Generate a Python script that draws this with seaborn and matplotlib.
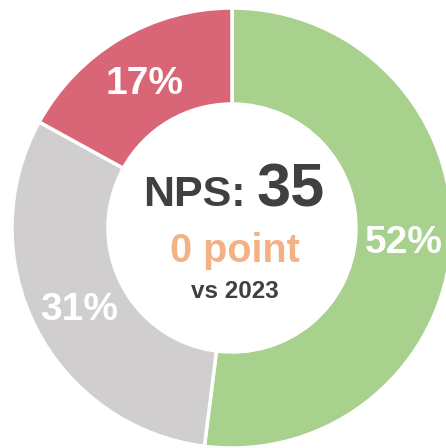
import matplotlib
matplotlib.use("Agg")
import matplotlib.pyplot as plt
import seaborn as sns

# NPS breakdown, clockwise from 12 o'clock
segments = ["Promoters", "Passives", "Detractors"]
shares = [52, 31, 17]
segment_colors = ["#a8d18d", "#d0cecf", "#d96677"]

nps_score = 35
nps_change = 0
compare_year = 2023

sns.set_theme(style="white")
plt.rcParams["font.family"] = ["Liberation Sans", "DejaVu Sans"]

fig = plt.figure(figsize=(4.46, 4.48), dpi=100)
ax = fig.add_axes([0, 0, 1, 1])

outer_r = 220
ring_w = 96

wedges, _, pct_texts = ax.pie(
    shares,
    colors=sns.color_palette(segment_colors),
    startangle=90,
    counterclock=False,
    radius=outer_r,
    autopct=lambda p: f"{p:.0f}%",
    pctdistance=(outer_r - ring_w / 2) / outer_r,
    wedgeprops=dict(width=ring_w, edgecolor="white", linewidth=2.5),
    textprops=dict(color="white", fontsize=28, fontweight="bold"),
)
for t in pct_texts:
    t.set_verticalalignment("center_baseline")

# Centre annotation
dark = "#404040"
ax.text(14, 22, "NPS:", ha="right", va="baseline", fontsize=31,
        fontweight="bold", color=dark)
ax.text(25, 22, f"{nps_score}", ha="left", va="baseline", fontsize=44,
        fontweight="bold", color=dark)
ax.text(2.5, -34, f"{nps_change} point", ha="center", va="baseline",
        fontsize=28.5, fontweight="bold", color="#f4b183")
ax.text(3, -70, f"vs {compare_year}", ha="center", va="baseline",
        fontsize=17.5, fontweight="bold", color=dark)

ax.set_xlim(-232, 214)
ax.set_ylim(-220, 228)
ax.set_aspect("equal")
ax.axis("off")

fig.savefig("out.png", dpi=100, facecolor="white")
